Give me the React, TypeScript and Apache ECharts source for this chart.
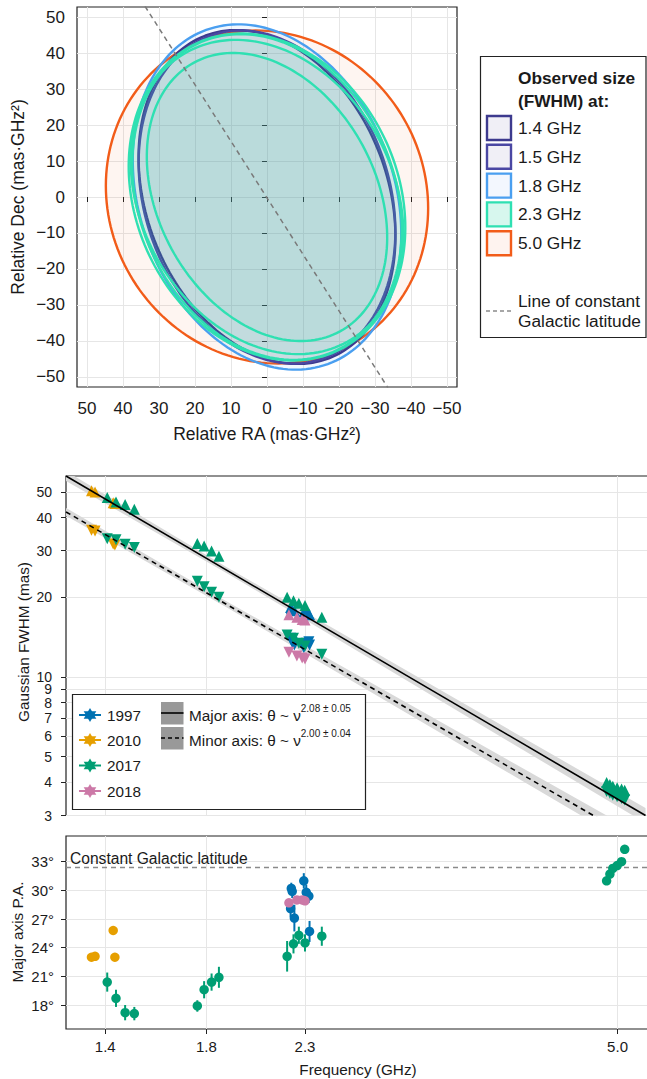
import React, { useEffect, useRef } from 'react';
import * as echarts from 'echarts';

// ---------------- Top panel: observed FWHM ellipses (semi-axes in mas·GHz², PA in deg E of N) ----------------
const ellipseBands = ['5.0 GHz', '1.8 GHz', '1.4 GHz', '1.5 GHz', '2.3 GHz', '2.3 GHz', '2.3 GHz', '2.3 GHz'];
const ellipseSemiMajor = [47.2, 49.4, 48.0, 47.5, 47.0, 46.8, 46.0, 42.5];
const ellipseSemiMinor = [43.8, 35.4, 33.5, 34.0, 36.5, 35.5, 35.0, 30.2];
const ellipsePA = [32, 20, 21, 19, 24, 23, 29, 28.5];
const galacticLineTop = [[33.9, 53], [-33.6, -53]];
const legendBands = ['1.4 GHz', '1.5 GHz', '1.8 GHz', '2.3 GHz', '5.0 GHz'];
const raTicks = [50, 40, 30, 20, 10, 0, -10, -20, -30, -40, -50];
const decTicks = [-50, -40, -30, -20, -10, 0, 10, 20, 30, 40, 50];

// ---------------- Middle / bottom panels ----------------
const years = ['1997', '2010', '2017', '2018'];

const freq1997 = [2.219, 2.223, 2.228, 2.24, 2.293, 2.307, 2.322, 2.326];
const major1997 = [18.3, 18.1, 18.0, 17.8, 17.6, 17.5, 17.3, 17.2];
const minor1997 = [14.0, 13.8, 13.5, 13.2, 12.9, 13.4, 13.6, 13.2];
const pa1997 = [28.1, 30.2, 29.9, 27.1, 31.0, 29.8, 29.4, 25.7];
const paErr1997 = [0.9, 0.6, 0.7, 1.4, 0.8, 0.8, 0.7, 1.1];

const freq2010 = [1.353, 1.365, 1.428, 1.434];
const major2010 = [50.5, 50.0, 45.5, 45.2];
const minor2010 = [35.8, 35.6, 31.8, 31.5];
const pa2010 = [23.0, 23.1, 25.8, 23.0];
const paErr2010 = [0.2, 0.2, 0.2, 0.2];

const freq2017 = [1.407, 1.438, 1.471, 1.505, 1.76, 1.79, 1.8235, 1.857, 2.2, 2.235, 2.265, 2.3, 2.398, 4.866, 4.906, 4.942, 4.995, 5.05, 5.09];
const major2017 = [47.6, 45.8, 44.8, 43.0, 31.9, 31.2, 29.9, 28.6, 20.0, 19.4, 19.0, 18.6, 16.8, 4.0, 3.93, 3.87, 3.82, 3.78, 3.74];
const minor2017 = [33.3, 33.0, 31.7, 30.8, 23.0, 21.9, 20.9, 20.0, 14.4, 14.0, 13.4, 13.1, 12.2, 3.7, 3.64, 3.58, 3.53, 3.48, 3.43];
const pa2017 = [20.4, 18.7, 17.2, 17.1, 17.9, 19.6, 20.4, 20.9, 23.1, 24.4, 25.3, 24.5, 25.2, 31.0, 31.7, 32.3, 32.6, 33.0, 34.3];
const paErr2017 = [1.0, 0.9, 0.8, 0.7, 0.6, 0.9, 0.9, 1.1, 1.6, 1.0, 0.9, 0.9, 1.0, 0.3, 0.3, 0.3, 0.3, 0.3, 0.3];

const freq2018 = [2.21, 2.254, 2.284, 2.3];
const major2018 = [17.2, 16.8, 16.5, 16.4];
const minor2018 = [12.4, 12.0, 11.8, 11.7];
const pa2018 = [28.7, 29.0, 29.0, 28.9];
const paErr2018 = [0.3, 0.3, 0.3, 0.3];

// power-law fits (endpoints) and their confidence bands
const majorFit = [[1.27, 57.4], [5.36, 3.0]];
const minorFit = [[1.27, 42.0], [5.36, 2.31]];
const majorBandUpper = [[1.27, 59.9], [1.9, 25.8], [5.36, 3.2]];
const majorBandLower = [[1.27, 55.0], [1.9, 24.5], [5.36, 2.81]];
const minorBandUpper = [[1.27, 43.5], [1.9, 19.15], [5.36, 2.48]];
const minorBandLower = [[1.27, 40.6], [1.9, 18.18], [5.36, 2.16]];
const fitLegend = ['Major axis: θ ~ ν', 'Minor axis: θ ~ ν'];
const fitExponent = ['2.08 ± 0.05', '2.00 ± 0.04'];

const galacticPA = 32.4;
const freqTicks = [1.4, 1.8, 2.3, 5.0];
const fwhmTicks = [3, 4, 5, 6, 7, 8, 9, 10, 20, 30, 40, 50];
const paTicks = [18, 21, 24, 27, 30, 33];

// ---------------- styles ----------------
const FONT = '"Liberation Sans", Arial, Helvetica, sans-serif';
const TXT = '#1a1a1a';
const GRIDC = '#e6e6e6';
const SPINE = '#222222';
const bandStroke: Record<string, string> = {
  '1.4 GHz': '#3d3a8e',
  '1.5 GHz': '#4a47a3',
  '1.8 GHz': '#4a9ff0',
  '2.3 GHz': '#2fe0b2',
  '5.0 GHz': '#f25c19',
};
const bandFill: Record<string, string> = {
  '1.4 GHz': 'rgba(61,58,142,0.05)',
  '1.5 GHz': 'rgba(74,71,163,0.05)',
  '1.8 GHz': 'rgba(74,159,240,0.08)',
  '2.3 GHz': 'rgba(47,224,178,0.055)',
  '5.0 GHz': 'rgba(242,92,25,0.06)',
};
const swatchFill: Record<string, string> = {
  '1.4 GHz': '#f0eff6',
  '1.5 GHz': '#f0eff6',
  '1.8 GHz': '#f3f7fe',
  '2.3 GHz': '#d7f7ee',
  '5.0 GHz': '#fef3ef',
};
const yearColor: Record<string, string> = {
  '1997': '#0072b2',
  '2010': '#e69f00',
  '2017': '#009e73',
  '2018': '#cc79a7',
};

const minusFmt = (v: number) => (v < 0 ? '\u2212' + Math.abs(v) : String(v));

function buildOption() {
  const yearData: Record<string, { f: number[]; maj: number[]; min: number[]; pa: number[]; err: number[] }> = {
    '1997': { f: freq1997, maj: major1997, min: minor1997, pa: pa1997, err: paErr1997 },
    '2010': { f: freq2010, maj: major2010, min: minor2010, pa: pa2010, err: paErr2010 },
    '2017': { f: freq2017, maj: major2017, min: minor2017, pa: pa2017, err: paErr2017 },
    '2018': { f: freq2018, maj: major2018, min: minor2018, pa: pa2018, err: paErr2018 },
  };

  const labelBase = { color: TXT, fontFamily: FONT };
  const tickBase = { show: true, inside: false, length: 5, lineStyle: { color: SPINE, width: 1 } };
  const split = { show: true, lineStyle: { color: GRIDC, width: 1 } };

  const grids = [
    { left: 77, top: 7, width: 380, height: 380 },
    { left: 66, top: 476, width: 584, height: 339.5 },
    { left: 66, top: 836, width: 584, height: 193 },
  ].map((g) => ({
    ...g,
    show: true,
    borderColor: SPINE,
    borderWidth: 1.2,
    backgroundColor: 'transparent',
    containLabel: false,
    outerBoundsMode: 'none',
  }));

  const xAxis = [
    {
      gridIndex: 0, type: 'value', inverse: true, min: -52.8, max: 52.8,
      axisLine: { show: false },
      axisTick: { ...tickBase, customValues: raTicks },
      axisLabel: { ...labelBase, fontSize: 17, margin: 13, customValues: raTicks, formatter: minusFmt },
      splitLine: split,
    },
    {
      gridIndex: 1, type: 'log', min: 1.27, max: 5.42,
      axisLine: { show: false },
      axisTick: { show: false, customValues: freqTicks },
      axisLabel: { show: false, customValues: freqTicks },
      splitLine: split,
    },
    {
      gridIndex: 2, type: 'log', min: 1.27, max: 5.42,
      axisLine: { show: false },
      axisTick: { ...tickBase, customValues: freqTicks },
      axisLabel: { ...labelBase, fontSize: 15, margin: 10, customValues: freqTicks, formatter: (v: number) => v.toFixed(1) },
      splitLine: split,
    },
  ];

  const yAxis = [
    {
      gridIndex: 0, type: 'value', min: -52.8, max: 52.8,
      axisLine: { show: false },
      axisTick: { ...tickBase, customValues: decTicks },
      axisLabel: { ...labelBase, fontSize: 17, margin: 12, customValues: decTicks, formatter: minusFmt },
      splitLine: split,
    },
    {
      gridIndex: 1, type: 'log', min: 3, max: 57.4,
      axisLine: { show: false },
      axisTick: { ...tickBase, customValues: fwhmTicks },
      axisLabel: { ...labelBase, fontSize: 14, lineHeight: 12, margin: 14, customValues: fwhmTicks, formatter: (v: number) => String(Math.round(v)) },
      splitLine: split,
    },
    {
      gridIndex: 2, type: 'value', min: 15.49, max: 35.69,
      axisLine: { show: false },
      axisTick: { ...tickBase, customValues: paTicks },
      axisLabel: { ...labelBase, fontSize: 15, margin: 12, customValues: paTicks, formatter: (v: number) => `${v}°` },
      splitLine: split,
    },
  ];

  const series: any[] = [];

  // ---- ellipses ----
  ellipseBands.forEach((band, i) => {
    series.push({
      type: 'custom',
      xAxisIndex: 0,
      yAxisIndex: 0,
      z: 2,
      silent: true,
      data: [[ellipseSemiMajor[i], ellipseSemiMinor[i], ellipsePA[i]]],
      renderItem: (_p: any, api: any) => {
        const a = api.value(0);
        const b = api.value(1);
        const pa = (api.value(2) * Math.PI) / 180;
        const pts: number[][] = [];
        const N = 180;
        for (let k = 0; k < N; k++) {
          const t = (k / N) * 2 * Math.PI;
          const u = a * Math.cos(t);
          const v = b * Math.sin(t);
          const x = u * Math.sin(pa) + v * Math.cos(pa);
          const y = u * Math.cos(pa) - v * Math.sin(pa);
          pts.push(api.coord([x, y]));
        }
        return {
          type: 'polygon',
          shape: { points: pts },
          style: { fill: bandFill[band], stroke: bandStroke[band], lineWidth: 2.4 },
        };
      },
    });
  });
  series.push({
    type: 'line', xAxisIndex: 0, yAxisIndex: 0, z: 5, silent: true, symbol: 'none',
    data: galacticLineTop,
    lineStyle: { color: '#7a7a7a', width: 1.5, type: [5, 4] },
  });

  // ---- confidence bands ----
  const bandPoly = (upper: number[][], lower: number[][]) => ({
    type: 'custom', xAxisIndex: 1, yAxisIndex: 1, z: 1, clip: true, silent: true,
    data: [[upper[1][0], upper[1][1]]],
    renderItem: (_p: any, api: any) => {
      const pts = [...upper, ...lower.slice().reverse()].map((p) => api.coord(p));
      return { type: 'polygon', shape: { points: pts }, style: { fill: '#d9d9d9', stroke: 'none' } };
    },
  });
  series.push(bandPoly(majorBandUpper, majorBandLower));
  series.push(bandPoly(minorBandUpper, minorBandLower));

  // ---- markers ----
  years.forEach((y) => {
    const d = yearData[y];
    series.push({
      type: 'scatter', name: y + ' major', xAxisIndex: 1, yAxisIndex: 1, z: 3, silent: true,
      symbol: 'triangle', symbolSize: 11,
      itemStyle: { color: yearColor[y], opacity: 1 },
      data: d.f.map((f, i) => [f, d.maj[i]]),
    });
    series.push({
      type: 'scatter', name: y + ' minor', xAxisIndex: 1, yAxisIndex: 1, z: 3, silent: true,
      symbol: 'triangle', symbolSize: 11, symbolRotate: 180,
      itemStyle: { color: yearColor[y], opacity: 1 },
      data: d.f.map((f, i) => [f, d.min[i]]),
    });
  });

  // ---- fits ----
  series.push({
    type: 'line', xAxisIndex: 1, yAxisIndex: 1, z: 6, silent: true, symbol: 'none',
    data: majorFit, lineStyle: { color: '#000', width: 1.6 },
  });
  series.push({
    type: 'line', xAxisIndex: 1, yAxisIndex: 1, z: 6, silent: true, symbol: 'none',
    data: minorFit, lineStyle: { color: '#000', width: 1.6, type: [5, 4] },
  });

  // ---- bottom panel ----
  series.push({
    type: 'line', xAxisIndex: 2, yAxisIndex: 2, z: 2, silent: true, symbol: 'none',
    data: [[1.27, galacticPA], [5.42, galacticPA]],
    lineStyle: { color: '#8a8a8a', width: 1.5, type: [5, 4] },
  });
  years.forEach((y) => {
    const d = yearData[y];
    series.push({
      type: 'custom', xAxisIndex: 2, yAxisIndex: 2, z: 3, silent: true,
      data: d.f.map((f, i) => [f, d.pa[i] - d.err[i], d.pa[i] + d.err[i]]),
      renderItem: (_p: any, api: any) => {
        const p1 = api.coord([api.value(0), api.value(1)]);
        const p2 = api.coord([api.value(0), api.value(2)]);
        return {
          type: 'line',
          shape: { x1: p1[0], y1: p1[1], x2: p2[0], y2: p2[1] },
          style: { stroke: yearColor[y], lineWidth: 2 },
        };
      },
    });
  });
  years.forEach((y) => {
    const d = yearData[y];
    series.push({
      type: 'scatter', xAxisIndex: 2, yAxisIndex: 2, z: 4, silent: true,
      symbol: 'circle', symbolSize: 9.5,
      itemStyle: { color: yearColor[y], opacity: 1 },
      data: d.f.map((f, i) => [f, d.pa[i]]),
    });
  });

  // ---------------- graphics: titles and legends ----------------
  const g: any[] = [];
  const text = (x: number, y: number, t: string, size: number, extra: any = {}) => ({
    type: 'text', x, y, z: 100,
    ...extra,
    style: { text: t, fill: TXT, font: `${extra.bold ? 'bold ' : ''}${size}px ${FONT}`, align: extra.align || 'left', verticalAlign: 'middle' },
  });

  // axis titles
  g.push(text(267, 434, 'Relative RA (mas·GHz²)', 17.5, { align: 'center' }));
  g.push({ ...text(18, 197, 'Relative Dec (mas·GHz²)', 17.5, { align: 'center' }), rotation: Math.PI / 2 });
  g.push({ ...text(23, 642, 'Gaussian FWHM (mas)', 15.3, { align: 'center' }), rotation: Math.PI / 2 });
  g.push({ ...text(17, 932, 'Major axis P.A.', 15.3, { align: 'center' }), rotation: Math.PI / 2 });
  g.push(text(358, 1069, 'Frequency (GHz)', 15.3, { align: 'center' }));
  g.push(text(70, 858, 'Constant Galactic latitude', 15.6));

  // top legend
  g.push({ type: 'rect', z: 99, shape: { x: 480.5, y: 56.5, width: 165.5, height: 281 }, style: { fill: '#fff', stroke: SPINE, lineWidth: 1.2 } });
  g.push(text(518, 78, 'Observed size', 17.3, { bold: true }));
  g.push(text(518, 101, '(FWHM) at:', 17.3, { bold: true }));
  legendBands.forEach((b, i) => {
    const cy = 128 + i * 28.8;
    g.push({ type: 'rect', z: 100, shape: { x: 487, y: cy - 12, width: 24, height: 24 }, style: { fill: swatchFill[b], stroke: bandStroke[b], lineWidth: 2.4 } });
    g.push(text(518, cy, b, 17.3));
  });
  g.push({ type: 'line', z: 100, shape: { x1: 486, y1: 311, x2: 512, y2: 311 }, style: { stroke: '#8a8a8a', lineWidth: 1.3, lineDash: [4, 3] } });
  g.push(text(518, 301, 'Line of constant', 17.3));
  g.push(text(518, 321, 'Galactic latitude', 17.3));

  // middle legend
  g.push({ type: 'rect', z: 99, shape: { x: 72.5, y: 694.5, width: 293, height: 115 }, style: { fill: '#fff', stroke: SPINE, lineWidth: 1.2 } });
  const rowsY = [715, 740, 765.5, 791];
  years.forEach((y, i) => {
    const cy = rowsY[i];
    const c = yearColor[y];
    g.push({ type: 'line', z: 100, shape: { x1: 79, y1: cy, x2: 101, y2: cy }, style: { stroke: c, lineWidth: 2 } });
    g.push({ type: 'polygon', z: 101, shape: { points: [[90, cy - 7], [96.3, cy + 3.8], [83.7, cy + 3.8]] }, style: { fill: c } });
    g.push({ type: 'polygon', z: 101, shape: { points: [[90, cy + 7], [96.3, cy - 3.8], [83.7, cy - 3.8]] }, style: { fill: c } });
    g.push(text(107, cy, y, 15.3));
  });
  const fitRowsY = [713, 738];
  fitLegend.forEach((t, i) => {
    const cy = fitRowsY[i];
    g.push({ type: 'rect', z: 100, shape: { x: 161, y: cy - 11, width: 22.5, height: 22.5 }, style: { fill: '#999999' } });
    g.push({
      type: 'line', z: 101, shape: { x1: 161, y1: cy, x2: 183.5, y2: cy },
      style: { stroke: '#000', lineWidth: 1.6, lineDash: i === 0 ? null : [4, 3] },
    });
    g.push({
      type: 'text', x: 189, y: cy, z: 100,
      style: {
        text: `{m|${t}}{s|${fitExponent[i]}}`,
        verticalAlign: 'middle',
        align: 'left',
        rich: {
          m: { fontSize: 15.3, fontFamily: FONT, fill: TXT, color: TXT, verticalAlign: 'bottom', lineHeight: 20 },
          s: { fontSize: 10, fontFamily: FONT, fill: TXT, color: TXT, verticalAlign: 'top', lineHeight: 12 },
        },
      },
    });
  });

  return {
    animation: false,
    backgroundColor: '#ffffff',
    textStyle: { fontFamily: FONT },
    grid: grids,
    xAxis,
    yAxis,
    series,
    graphic: g,
  };
}

export default function App() {
  const ref = useRef<HTMLDivElement>(null);
  useEffect(() => {
    document.body.style.margin = '0';
    const chart = echarts.init(ref.current!, null, { renderer: 'svg' });
    chart.setOption(buildOption() as any);
    return () => chart.dispose();
  }, []);
  return <div ref={ref} style={{ width: 647, height: 1079 }} />;
}
